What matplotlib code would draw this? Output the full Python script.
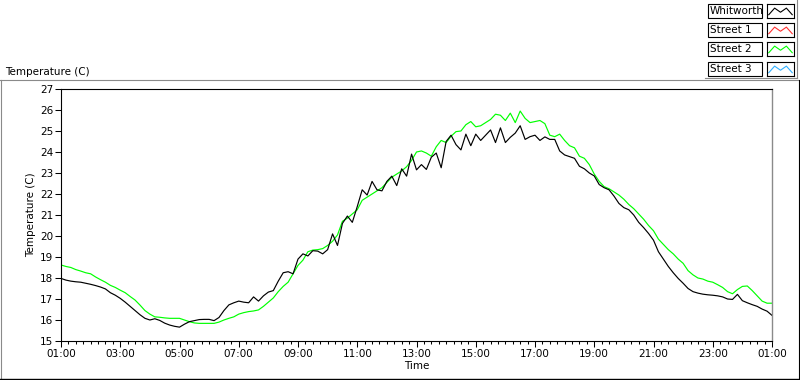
import numpy as np
import matplotlib
matplotlib.use("Agg")
import matplotlib.pyplot as plt
from matplotlib.patches import Rectangle
from matplotlib.lines import Line2D
from matplotlib.ticker import MultipleLocator, FixedLocator

plt.rcParams['font.family'] = ['DejaVu Sans']

# hours since midnight (01:00 .. next day 01:00), 10-minute readings
hours = np.arange(1.0, 25.0 + 1e-9, 1.0 / 6.0)

whitworth = [
    17.98, 17.90, 17.85, 17.82, 17.80, 17.75,
    17.70, 17.64, 17.57, 17.48, 17.30, 17.18,
    17.03, 16.85, 16.65, 16.45, 16.25, 16.08,
    16.00, 16.06, 15.98, 15.85, 15.76, 15.70,
    15.66, 15.80, 15.92, 15.97, 16.02, 16.03,
    16.03, 15.97, 16.12, 16.45, 16.72, 16.82,
    16.90, 16.85, 16.82, 17.10, 16.90, 17.15,
    17.33, 17.40, 17.85, 18.25, 18.30, 18.20,
    18.90, 19.15, 19.05, 19.30, 19.28, 19.15,
    19.35, 20.10, 19.55, 20.60, 20.95, 20.65,
    21.40, 22.20, 21.95, 22.60, 22.20, 22.15,
    22.60, 22.85, 22.40, 23.20, 22.85, 23.90,
    23.15, 23.40, 23.17, 23.75, 23.95, 23.25,
    24.50, 24.80, 24.35, 24.10, 24.85, 24.30,
    24.85, 24.55, 24.80, 25.05, 24.45, 25.15,
    24.45, 24.70, 24.90, 25.25, 24.60, 24.73,
    24.80, 24.55, 24.72, 24.60, 24.60, 24.05,
    23.86, 23.78, 23.70, 23.32, 23.20, 23.00,
    22.86, 22.45, 22.30, 22.20, 21.90, 21.55,
    21.35, 21.25, 21.00, 20.65, 20.40, 20.12,
    19.80, 19.25, 18.90, 18.55, 18.25, 17.98,
    17.75, 17.50, 17.35, 17.28, 17.23, 17.20,
    17.18, 17.15, 17.10, 17.00, 16.98, 17.22,
    16.92, 16.82, 16.73, 16.65, 16.52, 16.42,
    16.22,
]

street2 = [
    18.62, 18.55, 18.50, 18.40, 18.33, 18.25,
    18.20, 18.05, 17.92, 17.80, 17.65, 17.55,
    17.42, 17.30, 17.12, 16.95, 16.71, 16.45,
    16.28, 16.15, 16.13, 16.10, 16.08, 16.08,
    16.08, 16.00, 15.92, 15.86, 15.84, 15.84,
    15.84, 15.84, 15.90, 16.00, 16.08, 16.15,
    16.28, 16.35, 16.40, 16.43, 16.48, 16.65,
    16.85, 17.05, 17.35, 17.60, 17.80, 18.20,
    18.60, 18.85, 19.25, 19.33, 19.35, 19.40,
    19.55, 19.75, 20.05, 20.70, 20.85, 21.05,
    21.25, 21.70, 21.85, 22.00, 22.15, 22.30,
    22.55, 22.80, 22.95, 23.10, 23.30, 23.60,
    24.00, 24.05, 23.95, 23.80, 24.25, 24.55,
    24.45, 24.75, 24.97, 25.00, 25.30, 25.45,
    25.20, 25.25, 25.40, 25.55, 25.80, 25.75,
    25.50, 25.85, 25.40, 25.95, 25.60, 25.40,
    25.45, 25.50, 25.35, 24.80, 24.73, 24.85,
    24.55, 24.30, 24.20, 23.80, 23.70, 23.40,
    22.95, 22.60, 22.35, 22.25, 22.10, 21.95,
    21.75, 21.50, 21.30, 21.05, 20.80, 20.50,
    20.25, 19.85, 19.60, 19.35, 19.15, 18.90,
    18.70, 18.35, 18.15, 18.00, 17.95, 17.85,
    17.80, 17.68, 17.55, 17.35, 17.25, 17.45,
    17.60, 17.62, 17.40, 17.15, 16.90, 16.80,
    16.80,
]

series_names = ["Whitworth", "Street 1", "Street 2", "Street 3"]
series_colors = ["#000000", "#FF3030", "#00FF00", "#30B0FF"]

major_hours = list(range(1, 26, 2))
major_labels = ["01:00", "03:00", "05:00", "07:00", "09:00", "11:00", "13:00",
                "15:00", "17:00", "19:00", "21:00", "23:00", "01:00"]
y_ticks = list(range(15, 28))

W, H = 800, 380
fig = plt.figure(figsize=(8, 3.8), dpi=100)
fig.patch.set_facecolor("white")

def fx(px):
    return px / W

def fy(py):
    return 1 - py / H

# outer panel frame (sunken look)
fig.add_artist(Line2D([fx(0), fx(798)], [fy(80), fy(80)], color="#8a8a8a", lw=0.8))
fig.add_artist(Line2D([fx(1), fx(1)], [fy(80), fy(378)], color="#8a8a8a", lw=0.8))
fig.add_artist(Line2D([fx(0), fx(800)], [fy(378.5), fy(378.5)], color="black", lw=1.0))
fig.add_artist(Line2D([fx(798.5), fx(798.5)], [fy(80), fy(379)], color="black", lw=0.8))

ax = fig.add_axes([fx(61), fy(341), fx(772) - fx(61), fy(89) - fy(341)])
ax.plot(hours, street2, color=series_colors[2], lw=0.85)
ax.plot(hours, whitworth, color=series_colors[0], lw=0.85)

ax.set_xlim(1, 25)
ax.set_ylim(15, 27)
ax.xaxis.set_major_locator(FixedLocator(major_hours))
ax.set_xticklabels(major_labels)
ax.xaxis.set_minor_locator(MultipleLocator(0.25))
ax.yaxis.set_major_locator(FixedLocator(y_ticks))
ax.set_yticklabels([str(v) for v in y_ticks])
ax.tick_params(axis="both", which="major", direction="out", length=4, width=0.75,
               labelsize=7.5, pad=1.5, color="black")
ax.tick_params(axis="x", which="minor", direction="out", length=2.5, width=0.75, color="black")
for side in ["left", "top", "bottom"]:
    ax.spines[side].set_color("black")
    ax.spines[side].set_linewidth(0.8)
ax.spines["right"].set_color("#8a8a8a")
ax.spines["right"].set_linewidth(1.0)

ax.set_ylabel("Temperature (C)", fontsize=7.5, labelpad=3)
ax.set_xlabel("Time", fontsize=7.5, labelpad=2)

fig.text(fx(5), fy(72), "Temperature (C)", fontsize=7.5, ha="left", va="center")

# legend panel (top right)
fig.add_artist(Line2D([fx(797), fx(797)], [fy(0), fy(78)], color="#8a8a8a", lw=0.8))
fig.add_artist(Line2D([fx(705), fx(797)], [fy(78), fy(78)], color="#8a8a8a", lw=0.8))
row_tops = [4, 23, 42, 62]
zig = [0.0, 0.8, 0.3, 0.8, 0.0]
for name, color, top in zip(series_names, series_colors, row_tops):
    fig.add_artist(Rectangle((fx(708), fy(top + 14)), fx(762) - fx(708), fy(top) - fy(top + 14),
                             transform=fig.transFigure, facecolor="white",
                             edgecolor="black", lw=0.8))
    fig.text(fx(710), fy(top + 7.3), name, fontsize=7.5, ha="left", va="center")
    sax = fig.add_axes([fx(767), fy(top + 14), fx(794) - fx(767), fy(top) - fy(top + 14)])
    sax.set_xlim(-0.3, 4.3)
    sax.set_ylim(-0.4, 1.3)
    sax.plot(range(len(zig)), zig, color=color, lw=0.8)
    sax.set_xticks([])
    sax.set_yticks([])
    for sp in sax.spines.values():
        sp.set_color("black")
        sp.set_linewidth(0.8)

fig.savefig("out.png", dpi=100)
